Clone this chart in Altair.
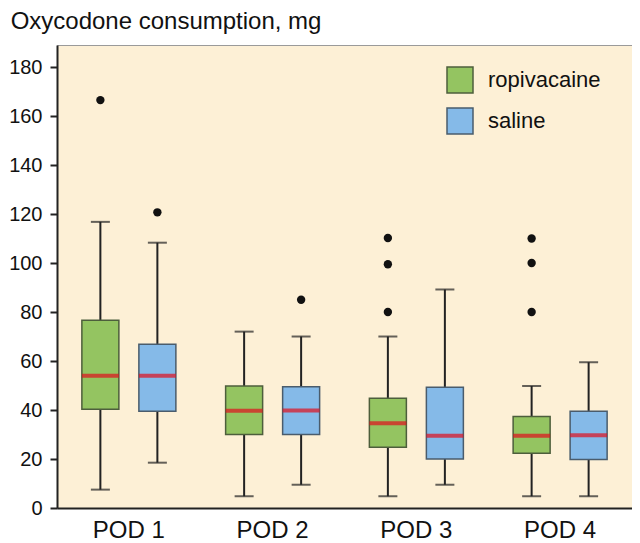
import altair as alt
import pandas as pd

pods = ["POD 1", "POD 1", "POD 2", "POD 2", "POD 3", "POD 3", "POD 4", "POD 4"]
groups = ["ropivacaine", "saline"] * 4
whisker_low = [7.5, 18.5, 4.8, 9.5, 4.8, 9.5, 4.8, 4.8]
q1 = [40.3, 39.5, 30.0, 30.0, 24.8, 20.0, 22.4, 19.8]
median = [54.0, 54.0, 39.7, 39.8, 34.6, 29.5, 29.5, 29.7]
q3 = [76.6, 66.8, 49.8, 49.5, 44.8, 49.3, 37.4, 39.5]
whisker_high = [116.8, 108.3, 72.0, 70.0, 70.0, 89.2, 49.8, 59.5]

outlier_pod = ["POD 1", "POD 1", "POD 2", "POD 3", "POD 3", "POD 3", "POD 4", "POD 4", "POD 4"]
outlier_group = ["ropivacaine", "saline", "saline", "ropivacaine", "ropivacaine", "ropivacaine",
                 "ropivacaine", "ropivacaine", "ropivacaine"]
outlier_value = [166.5, 120.7, 85.0, 80.0, 99.5, 110.2, 80.0, 100.0, 110.0]

pod_order = ["POD 1", "POD 2", "POD 3", "POD 4"]
group_order = ["ropivacaine", "saline"]

df = pd.DataFrame({"pod": pods, "group": groups, "lo": whisker_low, "q1": q1,
                   "med": median, "q3": q3, "hi": whisker_high})
dout = pd.DataFrame({"pod": outlier_pod, "group": outlier_group, "v": outlier_value})

FONT = "Liberation Sans"

x = alt.X("pod:N", sort=pod_order,
          scale=alt.Scale(paddingInner=0, paddingOuter=0),
          axis=alt.Axis(title=None, labelAngle=0, labelFontSize=24, labelFont=FONT,
                        labelColor="#111", ticks=False, labelPadding=10,
                        domainColor="#222", domainWidth=2))
xo = alt.XOffset("group:N", sort=group_order,
                 scale=alt.Scale(paddingInner=0, paddingOuter=0.261))
yscale = alt.Scale(domain=[0, 189], nice=False)
yaxis = alt.Axis(title=None, values=list(range(0, 181, 20)), labelFontSize=20,
                 labelFont=FONT, labelColor="#111", tickSize=7, tickColor="#222",
                 tickWidth=2, labelPadding=8, domainColor="#222", domainWidth=2,
                 grid=False)

base = alt.Chart(df)

whisk_lo = base.mark_rule(color="#222", strokeWidth=2).encode(
    x=x, xOffset=xo, y=alt.Y("lo:Q", scale=yscale, axis=yaxis), y2="q1:Q")
whisk_hi = base.mark_rule(color="#222", strokeWidth=2).encode(
    x=x, xOffset=xo, y=alt.Y("q3:Q", scale=yscale, axis=yaxis), y2="hi:Q")
cap_lo = base.mark_tick(color="#222", size=19, thickness=2).encode(
    x=x, xOffset=xo, y=alt.Y("lo:Q", scale=yscale, axis=yaxis))
cap_hi = base.mark_tick(color="#222", size=19, thickness=2).encode(
    x=x, xOffset=xo, y=alt.Y("hi:Q", scale=yscale, axis=yaxis))

box = base.mark_bar(size=37, strokeWidth=1.5).encode(
    x=x, xOffset=xo,
    y=alt.Y("q1:Q", scale=yscale, axis=yaxis), y2="q3:Q",
    color=alt.Color("group:N", sort=group_order,
                    scale=alt.Scale(domain=group_order, range=["#94c461", "#85bae8"]),
                    legend=alt.Legend(title=None, orient="none", legendX=389, legendY=21,
                                      symbolType="square", symbolSize=676,
                                      symbolStrokeWidth=1.5, symbolStrokeColor="#555",
                                      symbolOpacity=1, labelFontSize=22, labelFont=FONT,
                                      labelColor="#111", labelOffset=14, rowPadding=9,
                                      padding=0)),
    stroke=alt.Stroke("group:N", sort=group_order,
                      scale=alt.Scale(domain=group_order, range=["#4d5e3c", "#4a5c6c"]),
                      legend=None))

med = base.mark_tick(color="#e0101c", size=37, thickness=4).encode(
    x=x, xOffset=xo, y=alt.Y("med:Q", scale=yscale, axis=yaxis))

pts = alt.Chart(dout).mark_circle(color="#111", size=70, opacity=1).encode(
    x=x, xOffset=xo, y=alt.Y("v:Q", scale=yscale, axis=yaxis))

chart = alt.layer(whisk_lo, whisk_hi, cap_lo, cap_hi, box, med, pts).properties(
    width=575, height=463,
    padding={"left": 0, "top": 2, "right": 0, "bottom": 0},
    title=alt.TitleParams("Oxycodone consumption, mg", anchor="start", frame="bounds",
                          fontSize=24, font=FONT, fontWeight="normal", color="#111",
                          offset=11, dx=2),
).configure_view(fill="#fdf0d6", stroke="#9a9a9a", strokeWidth=1)

chart.save("out.html", embed_options={"renderer": "svg", "actions": False})
